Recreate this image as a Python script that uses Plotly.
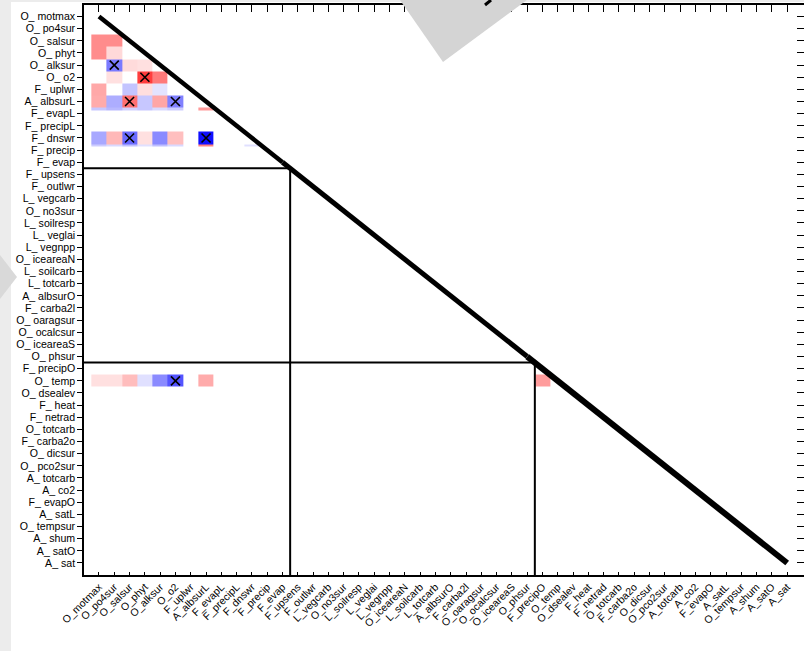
import plotly.graph_objects as go

# ---------------- data ----------------
variables = ["O_motmax", "O_po4sur", "O_salsur", "O_phyt", "O_alksur", "O_o2", "F_uplwr",
             "A_albsurL", "F_evapL", "F_precipL", "F_dnswr", "F_precip", "F_evap", "F_upsens",
             "F_outlwr", "L_vegcarb", "O_no3sur", "L_soilresp", "L_veglai", "L_vegnpp",
             "O_iceareaN", "L_soilcarb", "L_totcarb", "A_albsurO", "F_carba2l", "O_oaragsur",
             "O_ocalcsur", "O_iceareaS", "O_phsur", "F_precipO", "O_temp", "O_dsealev", "F_heat",
             "F_netrad", "O_totcarb", "F_carba2o", "O_dicsur", "O_pco2sur", "A_totcarb", "A_co2",
             "F_evapO", "A_satL", "O_tempsur", "A_shum", "A_satO", "A_sat"]
y_labels = [v.replace("_", "_ ") for v in variables]

# correlation values per row (columns in the order of `variables`, None = blank)
row_O_salsur = [0.45, 0.45]
row_O_phyt = [0.45, 0.15]
row_O_alksur = [None, -0.52, 0.14, 0.12]
row_O_o2 = [None, 0.12, None, 0.76, 0.52]
row_F_uplwr = [0.34, None, -0.23, 0.13, -0.11]
row_A_albsurL = [0.33, -0.32, 0.56, -0.22, 0.35, -0.50]
row_F_evapL = [-0.22, -0.28, -0.18, -0.22, -0.15, -0.20, None, 0.40]
row_F_dnswr = [-0.34, 0.28, -0.58, 0.12, -0.46, 0.25, None, -0.94]
row_F_precip = [-0.20, -0.15, -0.25, -0.12, -0.25, -0.15, None, 0.50, None, None, -0.12]
row_O_temp = [0.12, 0.12, 0.26, -0.12, -0.46, -0.67, None, 0.33] + [None] * 21 + [0.39]

thin_rows = ["F_evapL", "F_precip"]   # rows drawn as thin strips

sig_rows = ["O_alksur", "O_o2", "A_albsurL", "A_albsurL", "F_dnswr", "F_dnswr", "O_temp"]
sig_cols = ["O_po4sur", "O_phyt", "O_salsur", "O_o2", "O_salsur", "A_albsurL", "O_o2"]

group_ends = ["F_evap", "O_phsur"]

# ---------------- build ----------------
n = len(variables)
rows_map = {
    "O_salsur": row_O_salsur, "O_phyt": row_O_phyt, "O_alksur": row_O_alksur, "O_o2": row_O_o2,
    "F_uplwr": row_F_uplwr, "A_albsurL": row_A_albsurL, "F_evapL": row_F_evapL,
    "F_dnswr": row_F_dnswr, "F_precip": row_F_precip, "O_temp": row_O_temp,
}
THIN = 0.22
y_edges = [-0.5]
z = []
for i, v in enumerate(variables):
    vals = rows_map.get(v, [])
    full = [vals[j] if j < len(vals) else None for j in range(n)]
    if v in thin_rows:
        z.append(full)
        y_edges.append(i - 0.5 + THIN)
        z.append([None] * n)
        y_edges.append(i + 0.5)
    else:
        z.append(full)
        y_edges.append(i + 0.5)
x_edges = [j - 0.5 for j in range(n + 1)]

xr = [-0.98, 46.1]
yr = [45.99, -0.95]

fig = go.Figure()
fig.add_trace(go.Heatmap(
    x=x_edges, y=y_edges, z=z, zmin=-1, zmax=1, showscale=False, hoverongaps=False,
    colorscale=[[0, "rgb(0,0,255)"], [0.5, "rgb(255,255,255)"], [1, "rgb(255,0,0)"]],
))
# diagonal (slightly thickening towards the bottom right)
diag_parts = [(0, 12, 4.5), (12, 28, 5), (28, n - 1, 6)]
for a, b, w in diag_parts:
    fig.add_trace(go.Scatter(x=[a, b], y=[a, b], mode="lines",
                             line=dict(color="black", width=w), showlegend=False, hoverinfo="skip"))
# significance markers
fig.add_trace(go.Scatter(
    x=[variables.index(c) for c in sig_cols], y=[variables.index(r) for r in sig_rows],
    mode="markers", marker=dict(symbol="x-thin", size=9, line=dict(color="black", width=1.6)),
    showlegend=False, hoverinfo="skip"))
# dummy trace for the mirrored axes
fig.add_trace(go.Scatter(x=[0], y=[0], xaxis="x2", yaxis="y2", mode="markers",
                         marker=dict(opacity=0), showlegend=False, hoverinfo="skip"))

shapes = []
for g in group_ends:
    b = variables.index(g) + 0.5
    shapes.append(dict(type="path", xref="x", yref="y",
                       path=f"M {xr[0]},{b} L {b},{b} L {b},{yr[0]}",
                       line=dict(color="black", width=2)))

W, H = 804, 651
L, R, T, B = 84, 0, 5, 76
pw, ph = W - L - R, H - T - B


def px(xp):
    return (xp - L) / pw


def py(yp):
    return (H - B - yp) / ph


# page decorations (screenshot framing)
shapes.append(dict(type="rect", xref="paper", yref="paper", x0=px(0), x1=px(11), y0=py(651), y1=py(0),
                   fillcolor="#ececec", line=dict(width=0), layer="above"))
shapes.append(dict(type="rect", xref="paper", yref="paper", x0=px(0), x1=px(804), y0=py(2), y1=py(0),
                   fillcolor="#ececec", line=dict(width=0), layer="above"))
shapes.append(dict(type="path", xref="paper", yref="paper",
                   path=f"M {px(0)},{py(255)} L {px(17)},{py(277)} L {px(0)},{py(299)} Z",
                   fillcolor="#d9d9d9", line=dict(width=0), layer="above"))
shapes.append(dict(type="path", xref="paper", yref="paper",
                   path=f"M {px(400)},{py(0)} L {px(443)},{py(62)} L {px(527)},{py(0)} Z",
                   fillcolor="#d4d4d4", line=dict(width=0), layer="above"))
shapes.append(dict(type="line", xref="paper", yref="paper",
                   x0=px(485), y0=py(5), x1=px(491), y1=py(0),
                   line=dict(color="black", width=3), layer="above"))

font = "Liberation Sans, Arial, Helvetica, sans-serif"
fig.update_layout(
    width=W, height=H, margin=dict(l=L, r=R, t=T, b=B, pad=0),
    paper_bgcolor="white", plot_bgcolor="white",
    font=dict(family=font, color="black"),
    shapes=shapes,
    xaxis=dict(range=xr, tickmode="array", tickvals=list(range(n)), ticktext=variables,
               tickangle=-45, tickfont=dict(size=10.5), ticks="inside", ticklen=3,
               tickcolor="black", showline=True, linecolor="black", linewidth=1.5,
               showgrid=False, zeroline=False, fixedrange=True),
    yaxis=dict(range=yr, tickmode="array", tickvals=list(range(n)), ticktext=y_labels,
               tickfont=dict(size=10.6), ticks="outside", ticklen=5, tickcolor="black",
               showline=True, linecolor="black", linewidth=1.5,
               showgrid=False, zeroline=False, fixedrange=True),
    xaxis2=dict(range=xr, overlaying="x", side="top", tickmode="array",
                tickvals=list(range(n)), showticklabels=False, ticks="inside", ticklen=7,
                tickcolor="black", showline=True, linecolor="black", linewidth=1.5,
                showgrid=False, zeroline=False, fixedrange=True),
    yaxis2=dict(range=yr, overlaying="y", side="right", tickmode="array",
                tickvals=list(range(n)), showticklabels=False, ticks="inside", ticklen=7,
                tickcolor="black", showline=True, linecolor="black", linewidth=1.5,
                showgrid=False, zeroline=False, fixedrange=True),
)

fig.write_html("out.html", config={"displayModeBar": False},
               post_script="document.body.style.margin='0';document.body.style.overflow='hidden';")
